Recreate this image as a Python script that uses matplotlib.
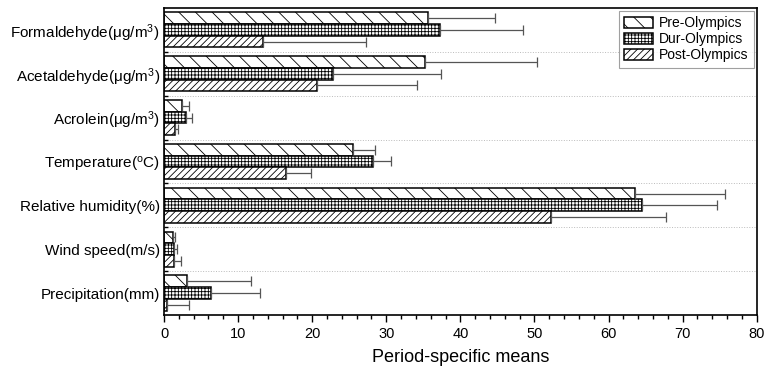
import matplotlib
matplotlib.use("Agg")
import matplotlib.pyplot as plt
import numpy as np
from matplotlib.ticker import MultipleLocator, FixedLocator

plt.rcParams['font.family'] = ['Liberation Sans', 'DejaVu Sans']
plt.rcParams['mathtext.default'] = 'regular'
plt.rcParams['hatch.linewidth'] = 0.6

categories = ['Formaldehyde(μg/m$^3$)', 'Acetaldehyde(μg/m$^3$)', 'Acrolein(μg/m$^3$)',
              'Temperature($^o$C)', 'Relative humidity(%)', 'Wind speed(m/s)', 'Precipitation(mm)']
series = ['Pre-Olympics', 'Dur-Olympics', 'Post-Olympics']
pre_mean = [35.6, 35.2, 2.4, 25.5, 63.6, 1.25, 3.1]
pre_sd = [9.1, 15.2, 1.0, 3.0, 12.1, 0.25, 8.6]
dur_mean = [37.3, 22.8, 3.0, 28.2, 64.5, 1.4, 6.3]
dur_sd = [11.2, 14.6, 0.8, 2.4, 10.2, 0.4, 6.6]
post_mean = [13.3, 20.7, 1.5, 16.5, 52.3, 1.3, 0.4]
post_sd = [13.9, 13.5, 0.4, 3.4, 15.5, 1.0, 3.0]

means = [pre_mean, dur_mean, post_mean]
sds = [pre_sd, dur_sd, post_sd]
hatches = ['\\\\', '+++++', '/////']

fig = plt.figure(figsize=(7.69, 3.79), dpi=100)
ax = fig.add_axes([0.2133, 0.169, 0.984 - 0.2133, 0.979 - 0.169])

n = len(categories)
centers = np.arange(n)[::-1].astype(float)
h = 0.8 / 3
for i in range(3):
    ys = centers + (1 - i) * h
    ax.barh(ys, means[i], height=h, color='white', edgecolor='black', linewidth=1.1,
            hatch=hatches[i], label=series[i], zorder=2)
    ax.errorbar(means[i], ys, xerr=[np.zeros(n), sds[i]], fmt='none', ecolor='#555555',
                elinewidth=0.9, capsize=3.5, capthick=0.9, zorder=3)

ax.set_ylim(-0.5, n - 0.5)
ax.set_xlim(0, 80)
ax.set_yticks(centers)
ax.set_yticklabels(categories, fontsize=11)
ax.yaxis.set_minor_locator(FixedLocator(np.arange(0.5, n - 1, 1.0)))
ax.tick_params(axis='y', which='major', length=0, pad=3)
ax.tick_params(axis='y', which='minor', length=3, direction='in', width=1)
ax.grid(axis='y', which='minor', linestyle=':', color='#bbbbbb', linewidth=0.7, zorder=0)

ax.xaxis.set_major_locator(MultipleLocator(10))
ax.xaxis.set_minor_locator(MultipleLocator(2))
ax.tick_params(axis='x', which='major', length=5, width=1, direction='out', labelsize=10.5)
ax.tick_params(axis='x', which='minor', length=3, width=1, direction='out')
ax.set_xlabel('Period-specific means', fontsize=13, labelpad=6)

for s in ax.spines.values():
    s.set_linewidth(1.2)

leg = ax.legend(loc='upper right', fontsize=10, frameon=True, fancybox=False,
                edgecolor='#888888', handlelength=2.1, handleheight=0.8,
                borderpad=0.4, labelspacing=0.15, handletextpad=0.4,
                borderaxespad=0.2, bbox_to_anchor=(1.0, 1.0))
leg.get_frame().set_linewidth(0.8)

fig.savefig('out.png', dpi=100)
